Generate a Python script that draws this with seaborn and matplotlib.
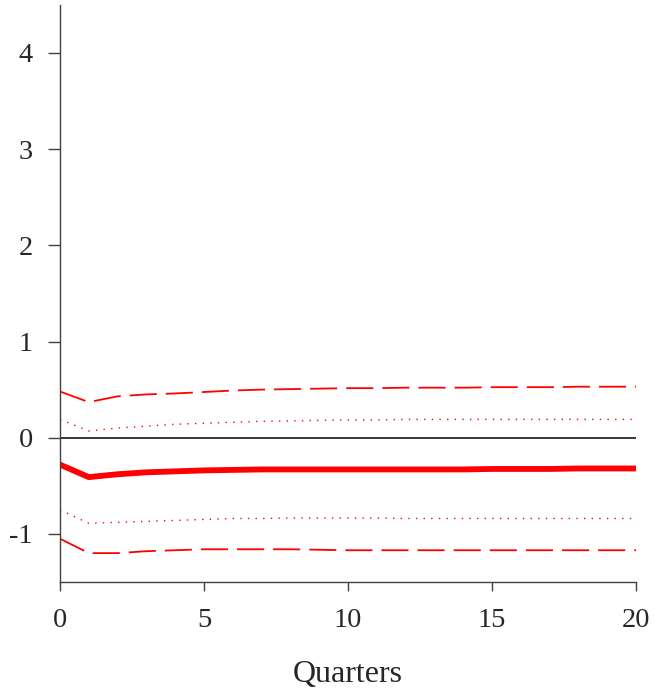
import numpy as np
import pandas as pd
import matplotlib
matplotlib.use("Agg")
import matplotlib.pyplot as plt
import seaborn as sns

# ----------------------------------------
# Data: impulse response and bands, by quarter
# ----------------------------------------
quarters = list(range(21))
response = [-0.28, -0.41, -0.38, -0.36, -0.35, -0.34, -0.335, -0.33, -0.33, -0.33, -0.33,
            -0.33, -0.33, -0.33, -0.33, -0.325, -0.325, -0.325, -0.32, -0.32, -0.32]
upper_90 = [0.48, 0.37, 0.43, 0.45, 0.46, 0.475, 0.49, 0.50, 0.505, 0.51, 0.515,
            0.515, 0.52, 0.52, 0.52, 0.525, 0.525, 0.525, 0.53, 0.53, 0.53]
upper_68 = [0.19, 0.07, 0.10, 0.12, 0.14, 0.15, 0.16, 0.17, 0.175, 0.18, 0.185,
            0.185, 0.19, 0.19, 0.19, 0.19, 0.19, 0.19, 0.19, 0.19, 0.19]
lower_68 = [-0.75, -0.89, -0.88, -0.87, -0.86, -0.85, -0.84, -0.84, -0.835, -0.835, -0.835,
            -0.835, -0.84, -0.84, -0.84, -0.84, -0.84, -0.84, -0.84, -0.84, -0.84]
lower_90 = [-1.05, -1.20, -1.20, -1.18, -1.17, -1.16, -1.16, -1.16, -1.16, -1.165, -1.17,
            -1.17, -1.17, -1.17, -1.17, -1.17, -1.17, -1.17, -1.17, -1.17, -1.17]

df = pd.DataFrame({
    "q": quarters,
    "resp": response,
    "u90": upper_90,
    "u68": upper_68,
    "l68": lower_68,
    "l90": lower_90,
})

sns.set_style("ticks")
plt.rcParams["font.family"] = ["Liberation Serif", "DejaVu Serif"]
plt.rcParams["axes.unicode_minus"] = False

fig = plt.figure(figsize=(6.68, 7.0), dpi=100)
ax = fig.add_axes([0.0898, 0.1686, 0.8625, 0.8245])

ax.axhline(0, color="black", lw=1.1, zorder=1)

# 90% bands dashed, 68% bands dotted
for col in ["u90", "l90"]:
    sns.lineplot(data=df, x="q", y=col, ax=ax, color="red", lw=1.3,
                 dashes=False).lines[-1].set_dashes((15, 5))
for col in ["u68", "l68"]:
    sns.lineplot(data=df, x="q", y=col, ax=ax, color="red", lw=1.0,
                 dashes=False).lines[-1].set_dashes((1, 4.5))
sns.lineplot(data=df, x="q", y="resp", ax=ax, color="red", lw=4.2,
             solid_capstyle="round")

ax.set_xlim(0, 20)
ax.set_ylim(-1.5, 4.5)
ax.set_xticks([0, 5, 10, 15, 20])
ax.set_yticks([-1, 0, 1, 2, 3, 4])
ax.set_xlabel("Quarters", fontsize=23, labelpad=19)
ax.set_ylabel("")

for side in ["top", "right"]:
    ax.spines[side].set_visible(False)
for side in ["left", "bottom"]:
    ax.spines[side].set_color("#404040")
    ax.spines[side].set_linewidth(1.0)

ax.tick_params(axis="y", length=9, width=1.0, color="#404040", pad=10.5, labelsize=20.5)
ax.tick_params(axis="x", length=6.5, width=1.0, color="#404040", pad=12.5, labelsize=20.5)

fig.savefig("out.png", dpi=100)
